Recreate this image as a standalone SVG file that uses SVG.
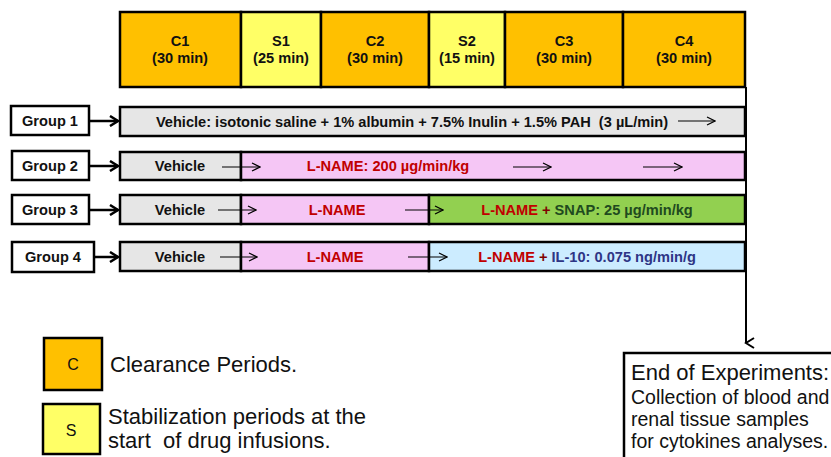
<svg xmlns="http://www.w3.org/2000/svg" width="831" height="457" viewBox="0 0 831 457">
<style>
.b{stroke:#000;stroke-width:2.5}
.c{fill:#FFC000}.s{fill:#FFFF66}.g{fill:#E6E6E6}.p{fill:#F5C6F5}.gr{fill:#92D050}.bl{fill:#CCECFF}
.t{font-family:"Liberation Sans",Arial,sans-serif;font-weight:bold;font-size:14.6px;text-anchor:middle;fill:#111}
.r{fill:#C00000}
.n{font-family:"Liberation Sans",Arial,sans-serif;font-size:22px;fill:#111}
.m{font-family:"Liberation Sans",Arial,sans-serif;font-size:19.5px;fill:#111}
.thin{stroke:#000;stroke-width:1.2;fill:none}
.thick{stroke:#000;stroke-width:2.5;fill:none}
</style>
<defs>
<marker id="oa" markerWidth="10" markerHeight="10" refX="9" refY="5" orient="auto" markerUnits="userSpaceOnUse"><path d="M1,1 L9,5 L1,9" fill="none" stroke="#000" stroke-width="1.2"/></marker>
<marker id="ta" markerWidth="12" markerHeight="12" refX="10" refY="6" orient="auto" markerUnits="userSpaceOnUse"><path d="M2,1 L10,6 L2,11" fill="none" stroke="#000" stroke-width="2.5"/></marker>
<marker id="da" markerWidth="12" markerHeight="12" refX="6" refY="10" orient="auto-start-reverse" markerUnits="userSpaceOnUse"><path d="M1,2 L6,10 L11,2" fill="none" stroke="#000" stroke-width="2"/></marker>
</defs>

<g id="header">
<rect class="b c" x="120" y="12" width="121" height="75"/>
<rect class="b s" x="241" y="12" width="80" height="75"/>
<rect class="b c" x="321" y="12" width="108" height="75"/>
<rect class="b s" x="429" y="12" width="76" height="75"/>
<rect class="b c" x="505" y="12" width="118" height="75"/>
<rect class="b c" x="623" y="12" width="122" height="75"/>
<text class="t" x="180" y="46">C1</text><text class="t" x="180" y="63">(30 min)</text>
<text class="t" x="281" y="46">S1</text><text class="t" x="281" y="63">(25 min)</text>
<text class="t" x="375" y="46">C2</text><text class="t" x="375" y="63">(30 min)</text>
<text class="t" x="467" y="46">S2</text><text class="t" x="467" y="63">(15 min)</text>
<text class="t" x="564" y="46">C3</text><text class="t" x="564" y="63">(30 min)</text>
<text class="t" x="684" y="46">C4</text><text class="t" x="684" y="63">(30 min)</text>
</g>

<g id="group1">
<rect class="b" fill="#fff" x="11" y="106" width="78" height="29"/>
<text class="t" x="50" y="126">Group 1</text>
<rect class="b g" x="120" y="107" width="625" height="29"/>
<text class="t" x="412" y="127" xml:space="preserve">Vehicle: isotonic saline + 1% albumin + 7.5% Inulin + 1.5% PAH  (3 µL/min)</text>
</g>

<g id="group2">
<rect class="b" fill="#fff" x="12" y="151" width="77" height="29"/>
<text class="t" x="50" y="171">Group 2</text>
<rect class="b g" x="120" y="152" width="121" height="28"/>
<rect class="b p" x="241" y="152" width="504" height="28"/>
<text class="t" x="180" y="171">Vehicle</text>
<text class="t r" x="388" y="171">L-NAME: 200 µg/min/kg</text>
</g>

<g id="group3">
<rect class="b" fill="#fff" x="12" y="195" width="77" height="29"/>
<text class="t" x="50" y="215">Group 3</text>
<rect class="b g" x="120" y="195" width="121" height="29"/>
<rect class="b p" x="241" y="195" width="188" height="29"/>
<rect class="b gr" x="429" y="195" width="316" height="29"/>
<text class="t" x="180" y="215">Vehicle</text>
<text class="t r" x="337" y="215">L-NAME</text>
<text class="t" x="587" y="215"><tspan class="r">L-NAME</tspan><tspan fill="#7F0000"> + </tspan><tspan fill="#1F4A1F">SNAP: 25 µg/min/kg</tspan></text>
</g>

<g id="group4">
<rect class="b" fill="#fff" x="12" y="242" width="82" height="30"/>
<text class="t" x="53" y="262">Group 4</text>
<rect class="b g" x="120" y="242" width="121" height="29"/>
<rect class="b p" x="241" y="242" width="188" height="29"/>
<rect class="b bl" x="429" y="242" width="316" height="29"/>
<text class="t" x="180" y="262">Vehicle</text>
<text class="t r" x="335" y="262">L-NAME</text>
<text class="t" x="587" y="262"><tspan class="r">L-NAME</tspan><tspan fill="#7F0000"> + </tspan><tspan fill="#2E3585">IL-10: 0.075 ng/min/g</tspan></text>
</g>

<g id="legend-c">
<rect class="b c" x="44" y="338" width="58" height="52"/>
<text x="73" y="370" font-family="Liberation Sans,Arial,sans-serif" font-size="16" text-anchor="middle" fill="#111">C</text>
<text class="n" x="110" y="372">Clearance Periods.</text>
</g>
<g id="legend-s">
<rect class="b s" x="43" y="404" width="57" height="50"/>
<text x="71" y="436" font-family="Liberation Sans,Arial,sans-serif" font-size="16" text-anchor="middle" fill="#111">S</text>
<text class="n" x="108" y="424">Stabilization periods at the</text>
<text class="n" x="108" y="448" xml:space="preserve">start  of drug infusions.</text>
</g>

<g id="end">
<rect class="b" fill="#fff" x="624" y="353" width="220" height="110"/>
<text class="n" x="631" y="380">End of Experiments:</text>
<text class="m" x="631" y="404">Collection of blood and</text>
<text class="m" x="631" y="426">renal tissue samples</text>
<text class="m" x="631" y="448">for cytokines analyses.</text>
</g>

<g id="connectors">
<line class="thick" x1="89" y1="121" x2="118" y2="121" marker-end="url(#ta)"/>
<line class="thick" x1="89" y1="166" x2="118" y2="166" marker-end="url(#ta)"/>
<line class="thick" x1="89" y1="210" x2="118" y2="210" marker-end="url(#ta)"/>
<line class="thick" x1="94" y1="257" x2="118" y2="257" marker-end="url(#ta)"/>
<line class="thin" x1="678" y1="121" x2="715" y2="121" marker-end="url(#oa)"/>
<line class="thin" x1="222" y1="167" x2="260" y2="167" marker-end="url(#oa)"/>
<line class="thin" x1="513" y1="167" x2="551" y2="167" marker-end="url(#oa)"/>
<line class="thin" x1="643" y1="167" x2="682" y2="167" marker-end="url(#oa)"/>
<line class="thin" x1="218" y1="210" x2="256" y2="210" marker-end="url(#oa)"/>
<line class="thin" x1="405" y1="210" x2="443" y2="210" marker-end="url(#oa)"/>
<line class="thin" x1="220" y1="257" x2="257" y2="257" marker-end="url(#oa)"/>
<line class="thin" x1="408" y1="257" x2="447" y2="257" marker-end="url(#oa)"/>
<line stroke="#000" stroke-width="2" x1="746" y1="87" x2="746" y2="343" marker-end="url(#da)"/>
</g>
</svg>
